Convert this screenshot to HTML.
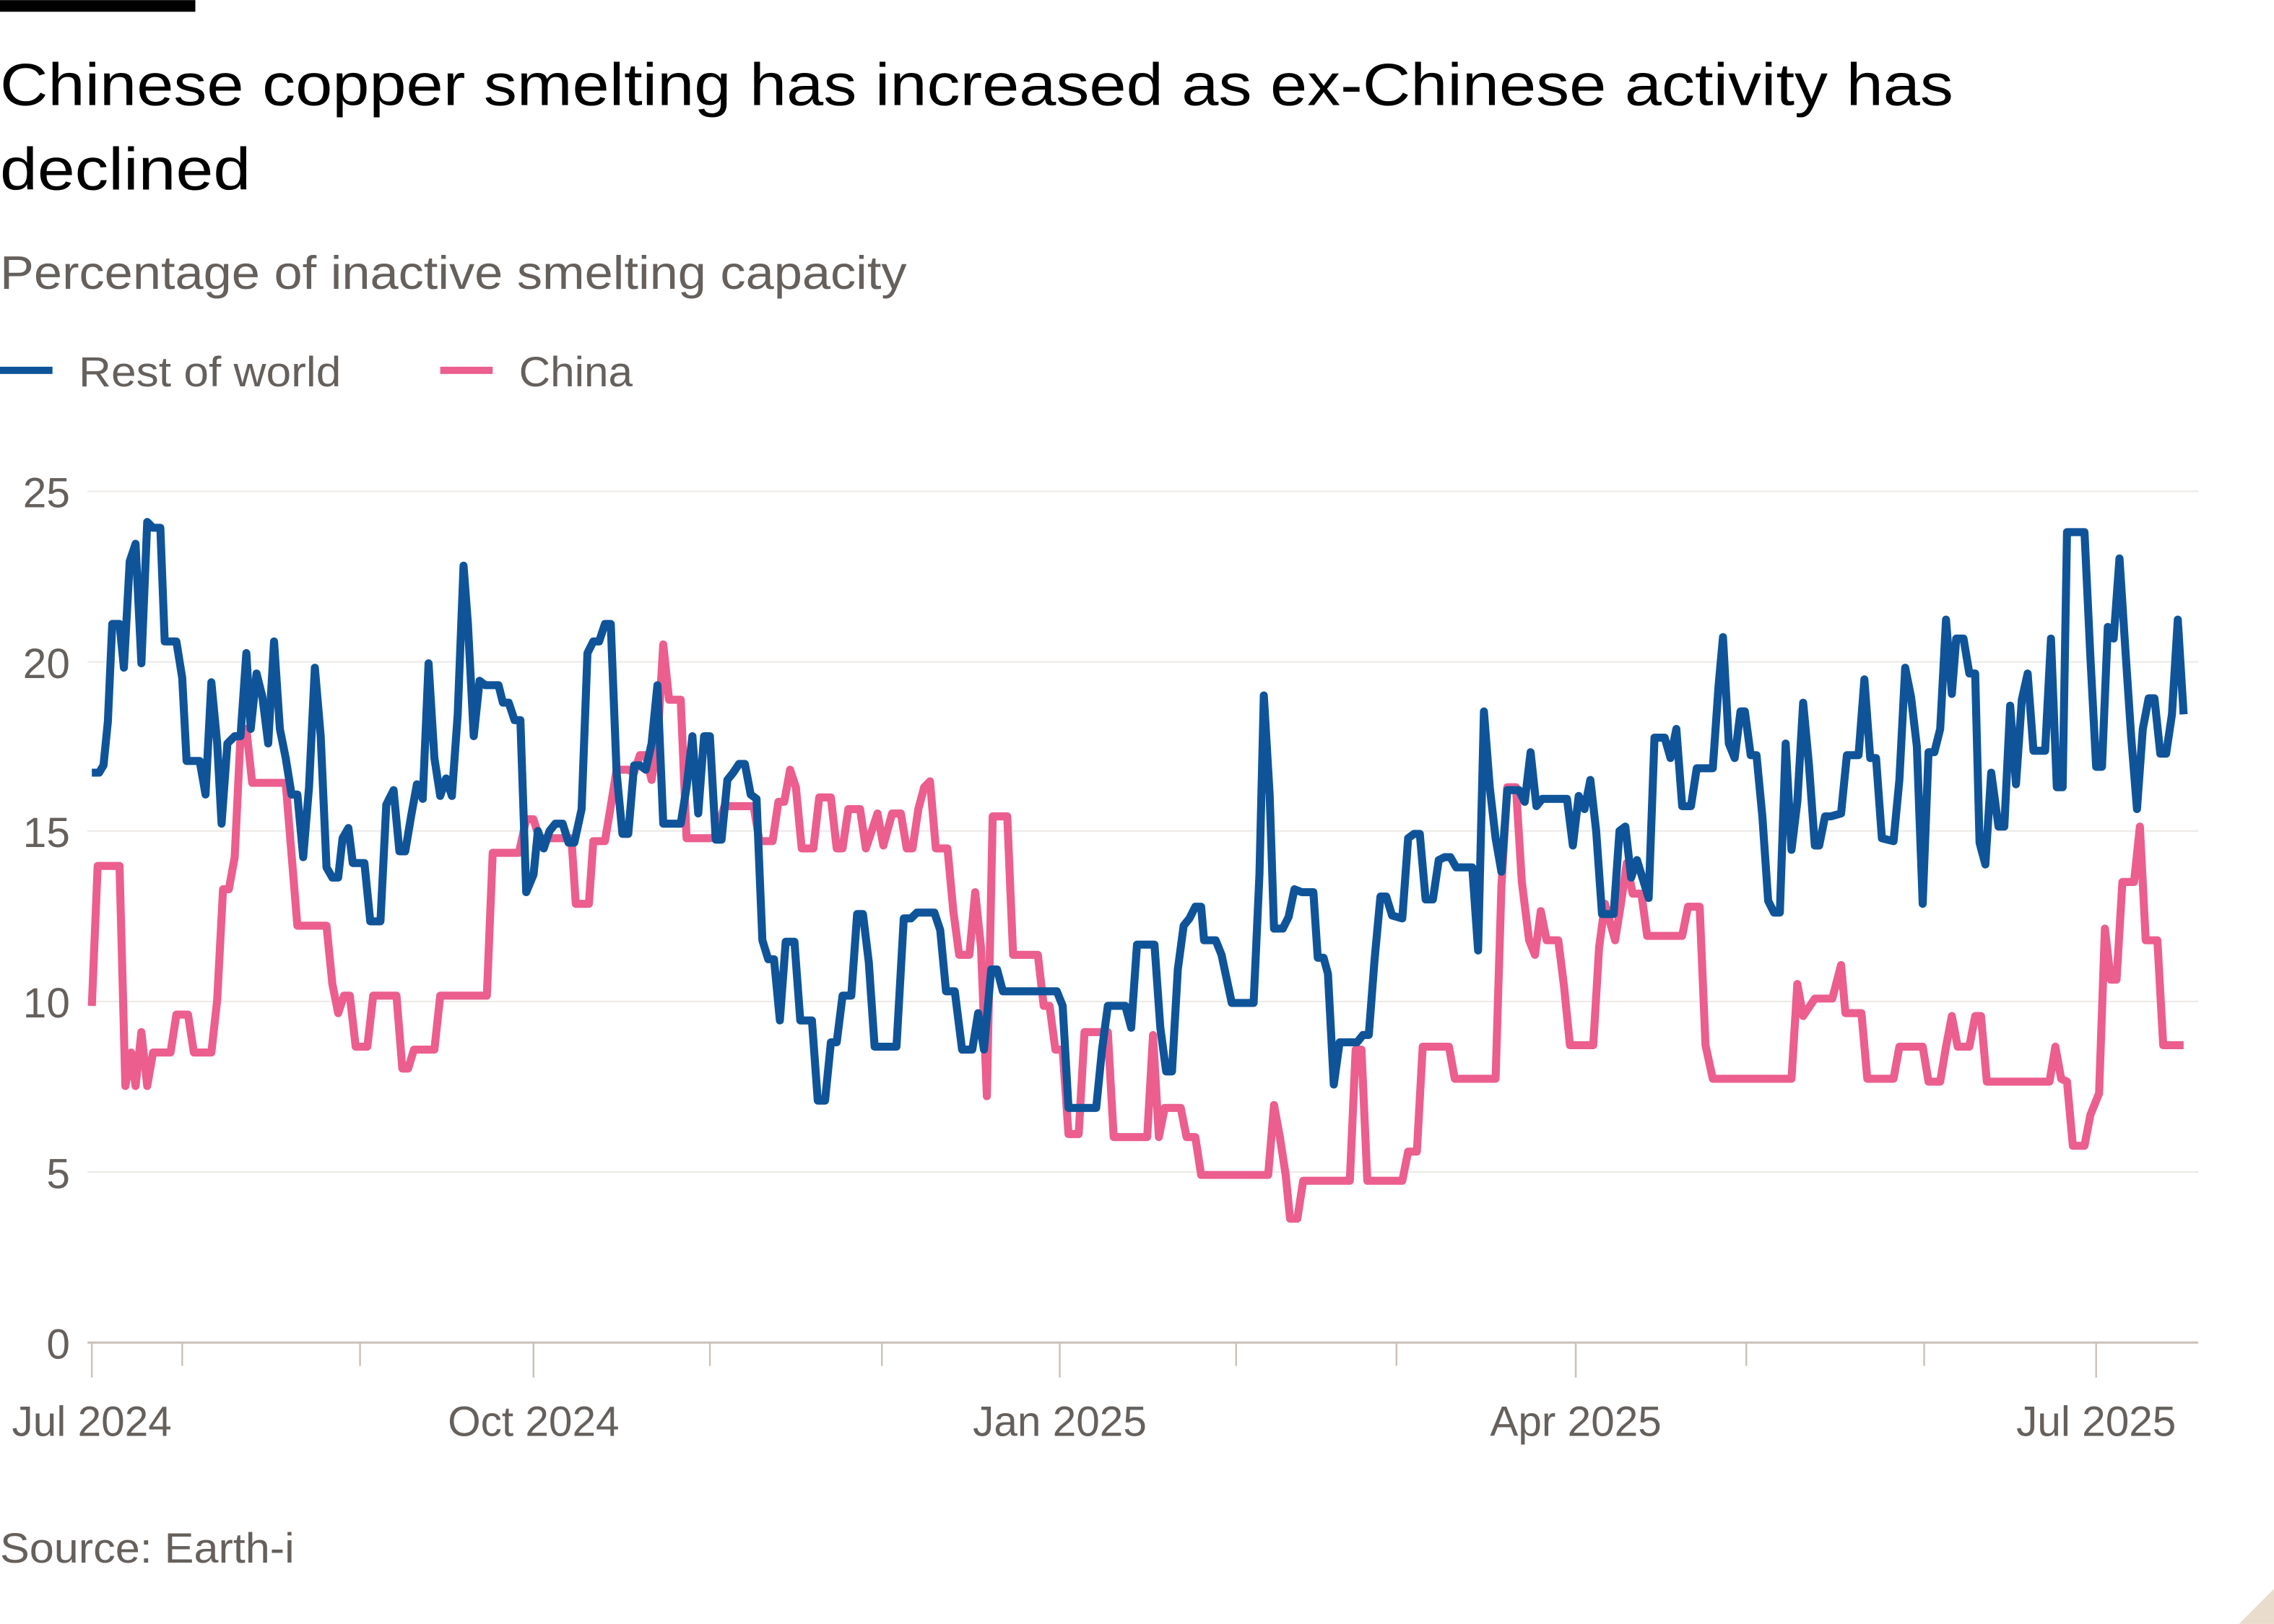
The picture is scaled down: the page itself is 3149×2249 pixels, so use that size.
<!DOCTYPE html>
<html><head><meta charset="utf-8"><style>
html,body{margin:0;padding:0;background:#fff;}
svg{display:block;}
text{font-family:"Liberation Sans",sans-serif;}
</style></head><body>
<svg width="3149" height="2249" viewBox="0 0 1560 1114" xmlns="http://www.w3.org/2000/svg">
<rect x="0" y="0" width="134" height="8" fill="#000"/>
<text x="0" y="72" font-size="41" fill="#000" textLength="1340" lengthAdjust="spacingAndGlyphs">Chinese copper smelting has increased as ex-Chinese activity has</text>
<text x="0" y="130" font-size="41" fill="#000" textLength="172" lengthAdjust="spacingAndGlyphs">declined</text>
<text x="0" y="198" font-size="32" fill="#66605c" textLength="622" lengthAdjust="spacingAndGlyphs">Percentage of inactive smelting capacity</text>
<line x1="0" y1="254" x2="36" y2="254" stroke="#0f5499" stroke-width="5"/>
<text x="54" y="265" font-size="29" fill="#66605c" textLength="180" lengthAdjust="spacingAndGlyphs">Rest of world</text>
<line x1="302" y1="254" x2="338" y2="254" stroke="#eb5e8d" stroke-width="5"/>
<text x="356" y="265" font-size="29" fill="#66605c" textLength="78" lengthAdjust="spacingAndGlyphs">China</text>
<g stroke="#ebe8e5" stroke-width="1">
<line x1="60" y1="337" x2="1508" y2="337"/><line x1="60" y1="454" x2="1508" y2="454"/>
<line x1="60" y1="570" x2="1508" y2="570"/><line x1="60" y1="687" x2="1508" y2="687"/>
<line x1="60" y1="804" x2="1508" y2="804"/>
</g>
<line x1="60" y1="921" x2="1508" y2="921" stroke="#ccc1b7" stroke-width="1.5"/>
<g stroke="#ccc1b7" stroke-width="1.2">
<line x1="63" y1="921" x2="63" y2="945"/><line x1="125" y1="921" x2="125" y2="937"/><line x1="247" y1="921" x2="247" y2="937"/>
<line x1="366" y1="921" x2="366" y2="945"/><line x1="487" y1="921" x2="487" y2="937"/><line x1="605" y1="921" x2="605" y2="937"/>
<line x1="727" y1="921" x2="727" y2="945"/><line x1="848" y1="921" x2="848" y2="937"/><line x1="958" y1="921" x2="958" y2="937"/>
<line x1="1081" y1="921" x2="1081" y2="945"/><line x1="1198" y1="921" x2="1198" y2="937"/><line x1="1320" y1="921" x2="1320" y2="937"/>
<line x1="1438" y1="921" x2="1438" y2="945"/>
</g>
<g font-size="29" fill="#66605c" text-anchor="end">
<text x="48" y="348">25</text><text x="48" y="465">20</text><text x="48" y="581">15</text>
<text x="48" y="698">10</text><text x="48" y="815">5</text><text x="48" y="932">0</text>
</g>
<g font-size="29" fill="#66605c" text-anchor="middle">
<text x="63" y="985">Jul 2024</text><text x="366" y="985">Oct 2024</text><text x="727" y="985">Jan 2025</text>
<text x="1081" y="985">Apr 2025</text><text x="1438" y="985">Jul 2025</text>
</g>
<polyline fill="none" stroke="#eb5e8d" stroke-width="5.5" stroke-linejoin="round" points="63,690 67,594 82,594 86,745 90,722 93,745 97,708 101,745 105,722 117,722 121,696 129,696 133,722 145,722 149,686 153,610 157,610 161,588 165,505 169,500 173,537 196,537 204,635 224,635 228,675 232,695 236,683 240,683 244,718 252,718 256,683 272,683 276,733 280,733 284,720 298,720 302,683 334,683 338,585 356,585 361,562 366,562 370,575 392,575 395,620 404,620 407,577 415,577 419,553 423,528 431,528 435,530 439,518 443,518 447,535 451,510 455,442 459,480 467,480 471,575 487,575 491,574 497,553 517,553 521,577 530,577 534,550 538,550 542,528 546,540 550,582 558,582 562,547 570,547 574,582 578,582 582,555 590,555 594,582 598,570 602,558 606,580 612,558 618,558 622,582 626,582 630,555 634,540 638,536 642,582 650,582 654,625 658,655 665,655 669,612 673,650 677,752 681,560 691,560 695,655 712,655 716,690 720,690 724,720 729,720 733,778 740,778 744,708 760,708 764,780 787,780 791,710 795,780 799,760 810,760 814,780 820,780 824,806 870,806 874,758 878,780 882,806 885,836 890,836 894,810 926,810 930,720 934,720 938,810 962,810 966,790 972,790 976,718 994,718 998,740 1026,740 1030,608 1034,540 1040,540 1044,605 1049,645 1053,655 1057,625 1061,645 1069,645 1073,677 1077,717 1093,717 1097,650 1101,620 1108,645 1112,620 1116,592 1120,613 1126,613 1130,642 1154,642 1158,622 1166,622 1170,717 1175,740 1229,740 1233,675 1237,697 1245,685 1257,685 1263,662 1266,695 1277,695 1281,740 1299,740 1303,718 1319,718 1323,742 1331,742 1335,718 1339,697 1343,718 1351,718 1355,697 1359,697 1363,742 1406,742 1410,718 1414,740 1418,742 1422,786 1430,786 1434,765 1440,750 1444,637 1448,672 1452,672 1456,605 1464,605 1468,567 1472,645 1480,645 1484,717 1498,717"/>
<polyline fill="none" stroke="#0f5499" stroke-width="5.5" stroke-linejoin="round" points="63,530 68,530 71,525 74,495 77,428 82,428 85,458 89,385 93,373 97,455 101,358 105,362 110,362 113,440 121,440 125,465 128,522 137,522 141,545 145,468 149,510 152,565 156,510 161,505 165,505 169,448 172,500 176,462 180,478 184,510 188,440 192,500 196,520 200,545 204,545 208,588 212,540 216,458 220,505 224,595 228,602 232,602 235,575 239,568 242,592 250,592 254,632 261,632 265,552 270,542 274,584 278,584 282,560 286,538 290,548 294,455 298,520 302,546 306,534 310,546 314,490 318,388 321,428 325,505 329,467 333,470 342,470 345,482 349,482 353,494 357,494 361,612 366,600 369,570 373,582 377,570 381,565 386,565 390,578 394,578 399,555 403,448 407,440 411,440 415,428 419,428 423,530 427,572 431,572 435,525 439,525 443,528 447,510 451,470 455,565 467,565 471,540 475,505 479,558 483,505 487,505 491,576 495,576 499,535 503,530 507,524 511,524 515,545 519,548 523,645 527,658 531,658 535,700 539,646 545,646 549,700 557,700 561,755 566,755 570,715 574,715 578,683 584,683 588,627 592,627 596,660 600,718 615,718 620,630 625,630 629,626 641,626 645,638 649,680 655,680 660,720 667,720 671,695 675,720 680,665 684,665 688,680 725,680 729,690 733,760 752,760 756,720 760,690 772,690 776,705 780,648 792,648 796,705 800,735 804,735 808,665 812,635 816,630 820,622 824,622 826,645 834,645 838,655 845,688 860,688 864,600 867,477 871,545 874,637 880,637 884,629 888,610 893,612 901,612 904,657 908,657 911,668 915,744 919,715 931,715 935,710 939,710 943,658 947,615 951,615 955,628 962,630 966,575 970,572 974,572 978,617 983,617 987,590 991,588 995,588 999,595 1010,595 1014,652 1018,488 1022,540 1026,575 1030,598 1034,542 1042,542 1046,550 1050,516 1054,553 1058,548 1075,548 1079,580 1083,546 1087,555 1091,535 1095,570 1099,627 1107,627 1111,570 1115,567 1119,602 1123,590 1127,603 1131,616 1135,506 1142,506 1146,520 1150,500 1154,553 1160,553 1164,527 1175,527 1179,470 1182,437 1186,510 1190,520 1194,488 1197,488 1201,518 1205,518 1209,560 1213,618 1217,626 1221,626 1225,510 1229,583 1233,550 1237,482 1241,525 1245,580 1248,580 1252,560 1256,560 1263,558 1267,518 1275,518 1279,466 1283,520 1287,520 1291,575 1299,577 1303,535 1307,458 1311,478 1315,512 1319,620 1323,516 1327,516 1331,500 1335,425 1339,476 1342,438 1347,438 1351,462 1355,462 1358,578 1362,593 1366,530 1371,567 1375,567 1379,484 1383,538 1387,480 1391,462 1395,515 1403,515 1407,438 1411,540 1415,540 1418,365 1430,365 1434,450 1438,526 1442,526 1446,430 1450,438 1454,383 1458,445 1462,505 1466,555 1470,500 1474,479 1478,479 1482,517 1486,517 1490,490 1494,425 1498,490"/>
<text x="0" y="1072" font-size="29" fill="#66605c" textLength="202" lengthAdjust="spacingAndGlyphs">Source: Earth-i</text>
<polygon points="1560,1090 1560,1114 1536,1114" fill="#e9dccd"/>
</svg>
</body></html>
